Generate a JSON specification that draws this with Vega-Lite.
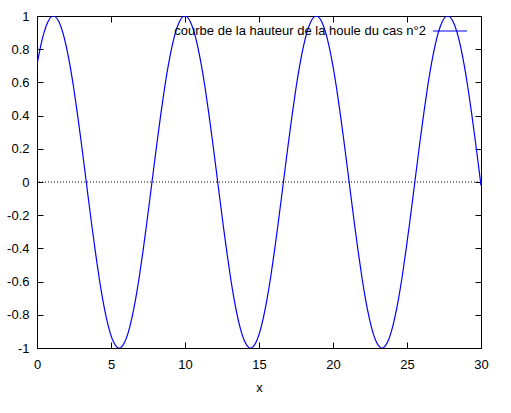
{
  "$schema": "https://vega.github.io/schema/vega-lite/v6.json",
  "autosize": {"type": "none"},
  "padding": {"left": 37, "top": 16, "right": 30, "bottom": 65},
  "width": 444,
  "height": 332,
  "background": "white",
  "config": {
    "font": "Liberation Sans",
    "view": {"stroke": null},
    "axis": {
      "grid": false,
      "domainColor": "black",
      "tickColor": "black",
      "labelColor": "black",
      "titleColor": "black",
      "labelFontSize": 13,
      "titleFontSize": 13,
      "titleFontWeight": "normal",
      "tickSize": -6,
      "domainWidth": 1,
      "tickWidth": 1,
      "labelFlush": false
    }
  },
  "data": {"values": [
    {"x": 0, "y": 0.7071}, {"x": 0.247, "y": 0.8192}, {"x": 0.493, "y": 0.9063}, {"x": 0.740, "y": 0.9659},
    {"x": 0.987, "y": 0.9962}, {"x": 1.233, "y": 0.9962}, {"x": 1.480, "y": 0.9659}, {"x": 1.727, "y": 0.9063},
    {"x": 1.973, "y": 0.8192}, {"x": 2.220, "y": 0.7071}, {"x": 2.467, "y": 0.5736}, {"x": 2.713, "y": 0.4226},
    {"x": 2.960, "y": 0.2588}, {"x": 3.207, "y": 0.0872}, {"x": 3.453, "y": -0.0872}, {"x": 3.700, "y": -0.2588},
    {"x": 3.947, "y": -0.4226}, {"x": 4.193, "y": -0.5736}, {"x": 4.440, "y": -0.7071}, {"x": 4.687, "y": -0.8192},
    {"x": 4.933, "y": -0.9063}, {"x": 5.180, "y": -0.9659}, {"x": 5.427, "y": -0.9962}, {"x": 5.673, "y": -0.9962},
    {"x": 5.920, "y": -0.9659}, {"x": 6.167, "y": -0.9063}, {"x": 6.413, "y": -0.8192}, {"x": 6.660, "y": -0.7071},
    {"x": 6.907, "y": -0.5736}, {"x": 7.153, "y": -0.4226}, {"x": 7.400, "y": -0.2588}, {"x": 7.647, "y": -0.0872},
    {"x": 7.893, "y": 0.0872}, {"x": 8.140, "y": 0.2588}, {"x": 8.387, "y": 0.4226}, {"x": 8.633, "y": 0.5736},
    {"x": 8.880, "y": 0.7071}, {"x": 9.127, "y": 0.8192}, {"x": 9.373, "y": 0.9063}, {"x": 9.620, "y": 0.9659},
    {"x": 9.867, "y": 0.9962}, {"x": 10.113, "y": 0.9962}, {"x": 10.360, "y": 0.9659}, {"x": 10.607, "y": 0.9063},
    {"x": 10.853, "y": 0.8192}, {"x": 11.100, "y": 0.7071}, {"x": 11.347, "y": 0.5736}, {"x": 11.593, "y": 0.4226},
    {"x": 11.840, "y": 0.2588}, {"x": 12.087, "y": 0.0872}, {"x": 12.333, "y": -0.0872}, {"x": 12.580, "y": -0.2588},
    {"x": 12.827, "y": -0.4226}, {"x": 13.073, "y": -0.5736}, {"x": 13.320, "y": -0.7071}, {"x": 13.567, "y": -0.8192},
    {"x": 13.813, "y": -0.9063}, {"x": 14.060, "y": -0.9659}, {"x": 14.307, "y": -0.9962}, {"x": 14.553, "y": -0.9962},
    {"x": 14.800, "y": -0.9659}, {"x": 15.047, "y": -0.9063}, {"x": 15.293, "y": -0.8192}, {"x": 15.540, "y": -0.7071},
    {"x": 15.787, "y": -0.5736}, {"x": 16.033, "y": -0.4226}, {"x": 16.280, "y": -0.2588}, {"x": 16.527, "y": -0.0872},
    {"x": 16.773, "y": 0.0872}, {"x": 17.020, "y": 0.2588}, {"x": 17.267, "y": 0.4226}, {"x": 17.513, "y": 0.5736},
    {"x": 17.760, "y": 0.7071}, {"x": 18.007, "y": 0.8192}, {"x": 18.253, "y": 0.9063}, {"x": 18.500, "y": 0.9659},
    {"x": 18.747, "y": 0.9962}, {"x": 18.993, "y": 0.9962}, {"x": 19.240, "y": 0.9659}, {"x": 19.487, "y": 0.9063},
    {"x": 19.733, "y": 0.8192}, {"x": 19.980, "y": 0.7071}, {"x": 20.227, "y": 0.5736}, {"x": 20.473, "y": 0.4226},
    {"x": 20.720, "y": 0.2588}, {"x": 20.967, "y": 0.0872}, {"x": 21.213, "y": -0.0872}, {"x": 21.460, "y": -0.2588},
    {"x": 21.707, "y": -0.4226}, {"x": 21.953, "y": -0.5736}, {"x": 22.200, "y": -0.7071}, {"x": 22.447, "y": -0.8192},
    {"x": 22.693, "y": -0.9063}, {"x": 22.940, "y": -0.9659}, {"x": 23.187, "y": -0.9962}, {"x": 23.433, "y": -0.9962},
    {"x": 23.680, "y": -0.9659}, {"x": 23.927, "y": -0.9063}, {"x": 24.173, "y": -0.8192}, {"x": 24.420, "y": -0.7071},
    {"x": 24.667, "y": -0.5736}, {"x": 24.913, "y": -0.4226}, {"x": 25.160, "y": -0.2588}, {"x": 25.407, "y": -0.0872},
    {"x": 25.653, "y": 0.0872}, {"x": 25.900, "y": 0.2588}, {"x": 26.147, "y": 0.4226}, {"x": 26.393, "y": 0.5736},
    {"x": 26.640, "y": 0.7071}, {"x": 26.887, "y": 0.8192}, {"x": 27.133, "y": 0.9063}, {"x": 27.380, "y": 0.9659},
    {"x": 27.627, "y": 0.9962}, {"x": 27.873, "y": 0.9962}, {"x": 28.120, "y": 0.9659}, {"x": 28.367, "y": 0.9063},
    {"x": 28.613, "y": 0.8192}, {"x": 28.860, "y": 0.7071}, {"x": 29.107, "y": 0.5736}, {"x": 29.353, "y": 0.4226},
    {"x": 29.600, "y": 0.2588}, {"x": 29.847, "y": 0.0872}, {"x": 30, "y": -0.021}
  ]},
  "resolve": {"axis": {"x": "independent", "y": "independent"}},
  "layer": [
    {
      "data": {"values": [{"zero": 0}]},
      "mark": {"type": "rule", "color": "black", "strokeDash": [1, 2], "strokeWidth": 1},
      "encoding": {
        "y": {"field": "zero", "type": "quantitative", "axis": null}
      }
    },
    {
      "mark": {"type": "line", "opacity": 0},
      "encoding": {
        "x": {"field": "x", "type": "quantitative",
              "axis": {"orient": "top", "labels": false, "title": null, "values": [0, 5, 10, 15, 20, 25, 30]}},
        "y": {"field": "y", "type": "quantitative",
              "axis": {"orient": "right", "labels": false, "title": null,
                       "values": [-1, -0.8, -0.6, -0.4, -0.2, 0, 0.2, 0.4, 0.6, 0.8, 1]}}
      }
    },
    {
      "mark": {"type": "line", "strokeWidth": 1.2, "interpolate": "natural", "clip": true},
      "encoding": {
        "x": {"field": "x", "type": "quantitative",
              "scale": {"domain": [0, 30], "nice": false, "zero": false},
              "axis": {"orient": "bottom", "title": "x", "values": [0, 5, 10, 15, 20, 25, 30],
                       "labelPadding": 16, "titlePadding": 10}},
        "y": {"field": "y", "type": "quantitative",
              "scale": {"domain": [-1, 1], "nice": false},
              "axis": {"orient": "left", "title": null,
                       "values": [-1, -0.8, -0.6, -0.4, -0.2, 0, 0.2, 0.4, 0.6, 0.8, 1],
                       "labelExpr": "'' + datum.value", "labelPadding": 14}},
        "color": {"datum": "courbe de la hauteur de la houle du cas n°2", "type": "nominal",
                  "scale": {"range": ["#0000ff"]},
                  "legend": {"orient": "none", "legendX": 395, "legendY": -3, "title": null,
                             "symbolType": "stroke", "symbolSize": 1156, "symbolStrokeWidth": 1.2,
                             "labelAlign": "right", "labelOffset": -42, "labelFontSize": 13,
                             "labelColor": "black", "labelFont": "Liberation Sans",
                             "padding": 0, "labelLimit": 400}}
      }
    }
  ]
}
